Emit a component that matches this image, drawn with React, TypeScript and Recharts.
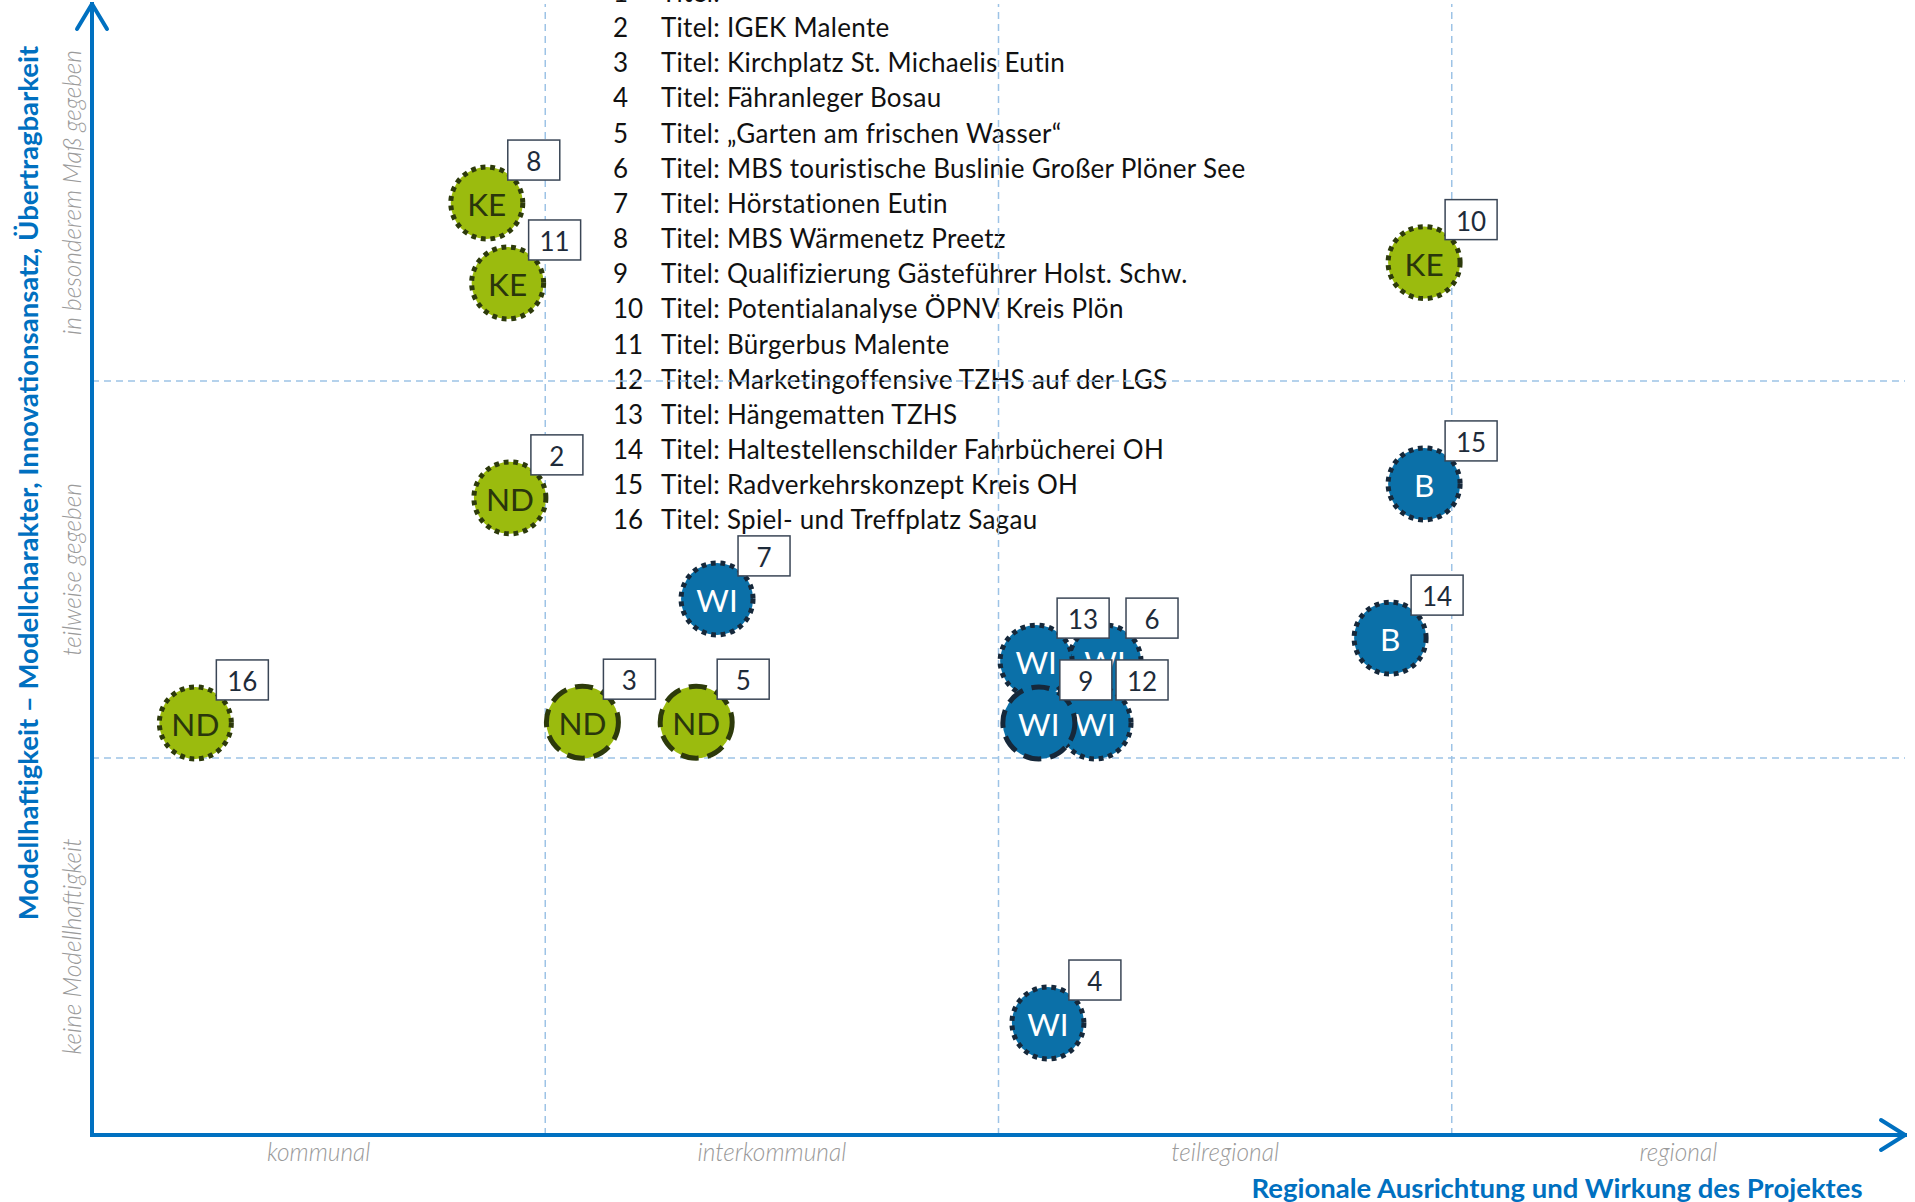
import React from 'react';
import { ScatterChart, Scatter, XAxis, YAxis, ReferenceLine, ReferenceDot } from 'recharts';

// projects, in drawing order (later ones lie on top)
const projectIds = [8, 11, 10, 2, 15, 7, 14, 6, 13, 12, 9, 16, 3, 5, 4];
const xValues = [0.871, 0.917, 2.939, 0.922, 2.939, 1.379, 2.864, 2.235, 2.083, 2.213, 2.089, 0.228, 1.082, 1.333, 2.109];
const yValues = [2.472, 2.26, 2.314, 1.69, 1.727, 1.422, 1.318, 1.257, 1.257, 1.093, 1.093, 1.093, 1.095, 1.095, 0.297];
const kinds = ['KE', 'KE', 'KE', 'ND', 'B', 'WI', 'B', 'WI', 'WI', 'WI', 'WI', 'ND', 'ND', 'ND', 'WI'];
const borderKinds = ['dot', 'dot', 'dot', 'dot', 'dot', 'dot', 'dot', 'dot', 'dot', 'dot', 'dash', 'dot', 'dash', 'dash', 'dot'];

const xCategories = ['kommunal', 'interkommunal', 'teilregional', 'regional'];
const yCategories = ['keine Modellhaftigkeit', 'teilweise gegeben', 'in besonderem Maß gegeben'];
const xTickValues = [0.5, 1.5, 2.5, 3.5];
const yTickValues = [0.5, 1.5, 2.5];
const gridX = [1, 2, 3];
const gridY = [1, 2];

const projectTitles = [
  'Titel:',
  'Titel: IGEK Malente',
  'Titel: Kirchplatz St. Michaelis Eutin',
  'Titel: Fähranleger Bosau',
  'Titel: „Garten am frischen Wasser“',
  'Titel: MBS touristische Buslinie Großer Plöner See',
  'Titel: Hörstationen Eutin',
  'Titel: MBS Wärmenetz Preetz',
  'Titel: Qualifizierung Gästeführer Holst. Schw.',
  'Titel: Potentialanalyse ÖPNV Kreis Plön',
  'Titel: Bürgerbus Malente',
  'Titel: Marketingoffensive TZHS auf der LGS',
  'Titel: Hängematten TZHS',
  'Titel: Haltestellenschilder Fahrbücherei OH',
  'Titel: Radverkehrskonzept Kreis OH',
  'Titel: Spiel- und Treffplatz Sagau',
];

const xTitle = 'Regionale Ausrichtung und Wirkung des Projektes';
const yTitle = 'Modellhaftigkeit – Modellcharakter, Innovationsansatz, Übertragbarkeit';

const points = projectIds.map((id, i) => ({
  id,
  x: xValues[i],
  y: yValues[i],
  kind: kinds[i],
  border: borderKinds[i],
}));

const FONT = 'Lato, "Open Sans", sans-serif';
const BLUE = '#0070C0';
const GREEN = '#9BBB0E';
const PBLUE = '#0B70A8';

const Bubble = (props: any) => {
  const { cx, cy, payload } = props;
  const green = payload.kind === 'KE' || payload.kind === 'ND';
  const dash = payload.border === 'dash' ? '18 9' : '4.8 4.8';
  return (
    <g>
      <circle
        cx={cx}
        cy={cy}
        r={36}
        fill={green ? GREEN : PBLUE}
        stroke={green ? '#2D3A0B' : '#16283A'}
        strokeWidth={5}
        strokeDasharray={dash}
      />
      <text
        x={cx}
        y={cy + 1}
        textAnchor="middle"
        dominantBaseline="central"
        fontFamily={FONT}
        fontSize={31.5}
        fill={green ? '#2A360C' : '#ffffff'}
      >
        {payload.kind}
      </text>
    </g>
  );
};

const NumberBox = (props: any) => {
  const { cx, cy, payload } = props;
  return (
    <g>
      <rect x={cx + 21} y={cy - 63} width={52} height={40} fill="#ffffff" stroke="#3A4656" strokeWidth={1.5} />
      <text
        x={cx + 47}
        y={cy - 42}
        textAnchor="middle"
        dominantBaseline="central"
        fontFamily={FONT}
        fontSize={26}
        fill="#1E2B3A"
      >
        {payload.id}
      </text>
    </g>
  );
};

const XTick = (props: any) => {
  const { x, y, payload } = props;
  const idx = xTickValues.indexOf(payload.value);
  return (
    <text x={x} y={y + 16} textAnchor="middle" dominantBaseline="central" fontFamily={FONT}
      fontStyle="italic" fontWeight={300} fontSize={24.5} fill="#9A9A9A">
      {xCategories[idx]}
    </text>
  );
};

const YTick = (props: any) => {
  const { x, y, payload } = props;
  const idx = yTickValues.indexOf(payload.value);
  return (
    <text transform={`translate(${x - 21}, ${y}) rotate(-90)`} textAnchor="middle" dominantBaseline="central"
      fontFamily={FONT} fontStyle="italic" fontWeight={300} fontSize={24.5} fill="#9A9A9A">
      {yCategories[idx]}
    </text>
  );
};

const ArrowRight = (props: any) => {
  const { cx, cy } = props;
  return (
    <path d={`M${cx - 24},${cy - 15} L${cx},${cy} L${cx - 24},${cy + 15}`} fill="none" stroke={BLUE}
      strokeWidth={4} strokeLinecap="round" strokeLinejoin="round" />
  );
};

const ArrowUp = (props: any) => {
  const { cx, cy } = props;
  return (
    <path d={`M${cx - 15},${cy + 25} L${cx},${cy} L${cx + 15},${cy + 25}`} fill="none" stroke={BLUE}
      strokeWidth={4} strokeLinecap="round" strokeLinejoin="round" />
  );
};

export default function App() {
  return (
    <div style={{ position: 'absolute', left: 0, top: 0, width: 1915, height: 1202, background: '#fff', overflow: 'hidden' }}>
      {/* project list and axis titles behind the chart */}
      <svg width={1915} height={1202} style={{ position: 'absolute', left: 0, top: 0 }}>
        {projectTitles.map((t, i) => (
          <g key={i} fontFamily={FONT} fontSize={26} fill="#111">
            <text x={613} y={-8 + i * 35.15} dominantBaseline="central">{i + 1}</text>
            <text x={661} y={-8 + i * 35.15} dominantBaseline="central" letterSpacing={0.3}>{t}</text>
          </g>
        ))}
        <text transform="translate(27, 483) rotate(-90)" textAnchor="middle" dominantBaseline="central"
          fontFamily={FONT} fontWeight={700} fontSize={27.5} fill={BLUE}>
          {yTitle}
        </text>
        <text x={1557} y={1187} textAnchor="middle" dominantBaseline="central"
          fontFamily={FONT} fontWeight={700} fontSize={27.5} fill={BLUE}>
          {xTitle}
        </text>
      </svg>
      <div style={{ position: 'absolute', left: 0, top: 0 }}>
        <ScatterChart width={1915} height={1202} margin={{ top: 4, right: 10, bottom: 7, left: 0 }}>
          <XAxis
            type="number"
            dataKey="x"
            domain={[0, 4]}
            ticks={xTickValues}
            height={60}
            tickSize={0}
            tickMargin={0}
            tickLine={false}
            axisLine={{ stroke: BLUE, strokeWidth: 4, strokeLinecap: 'square' } as any}
            tick={<XTick />}
            allowDataOverflow
          />
          <YAxis
            type="number"
            dataKey="y"
            domain={[0, 3]}
            ticks={yTickValues}
            width={92}
            tickSize={0}
            tickMargin={0}
            tickLine={false}
            axisLine={{ stroke: BLUE, strokeWidth: 4, strokeLinecap: 'square' } as any}
            tick={<YTick />}
            allowDataOverflow
          />
          {gridX.map((v) => (
            <ReferenceLine key={`gx${v}`} x={v} stroke="#9DC3E6" strokeWidth={1.5} strokeDasharray="7 5" />
          ))}
          {gridY.map((v) => (
            <ReferenceLine key={`gy${v}`} y={v} stroke="#9DC3E6" strokeWidth={1.5} strokeDasharray="7 5" />
          ))}
          <Scatter data={points} shape={<Bubble />} isAnimationActive={false} />
          <Scatter data={points} shape={<NumberBox />} isAnimationActive={false} />
          <ReferenceDot x={4} y={0} r={0} ifOverflow="visible" shape={<ArrowRight />} />
          <ReferenceDot x={0} y={3} r={0} ifOverflow="visible" shape={<ArrowUp />} />
        </ScatterChart>
      </div>
    </div>
  );
}
